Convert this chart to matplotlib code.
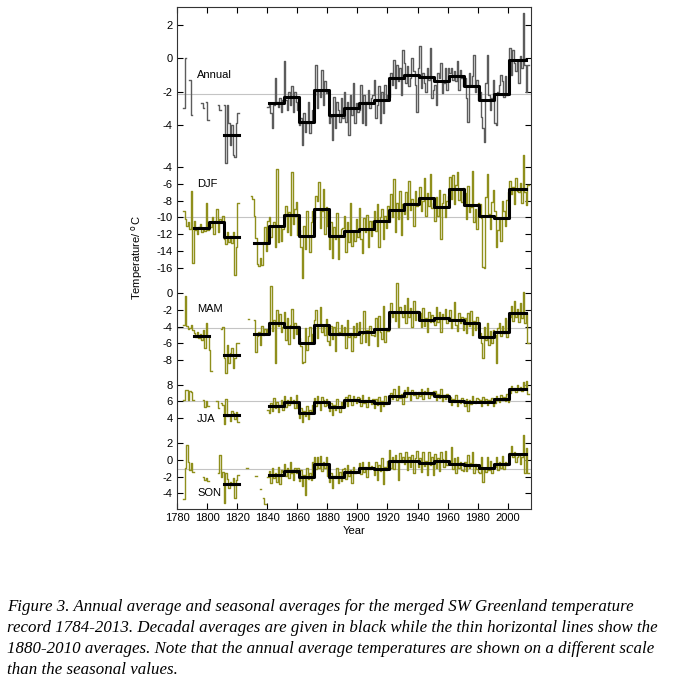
import numpy as np
import matplotlib
matplotlib.use('Agg')
import matplotlib.pyplot as plt

nan = np.nan
years = np.arange(1784, 2014)

# yearly values (deg C)
annual = [
    -3.0, 0.0, nan, nan, -1.3, -3.4, nan,                        # 1784-1790
    nan, nan, nan, nan, nan, -2.7, -3.0, nan, -2.6, -3.7,         # 1791-1800
    nan, nan, nan, nan, nan, nan, -2.8, -3.1, nan, nan,           # 1801-1810
    -2.8, -6.3, -2.8, -3.9, -5.2, -4.0, -5.8, -5.9, -3.9, -3.3,   # 1811-1820
    nan, nan, nan, nan, nan, nan, nan, nan, nan, nan,             # 1821-1830
    nan, nan, nan, nan, nan, nan, nan, nan, nan, -2.9,            # 1831-1840
    -2.7, -3.3, -4.2, -2.8, -1.2, -2.6, -2.9, -2.4, -3.2, -2.5,   # 1841-1850
    -0.2, -2.5, -3.1, -2.0, -2.8, -1.7, -3.2, -2.0, -2.6, -3.1,
    -4.0, -3.6, -5.2, -3.3, -4.4, -3.9, -2.6, -4.5, -3.8, -3.1,
    -2.2, -0.4, -3.0, -1.9, -2.3, -0.7, -2.8, -1.4, -2.1, -2.0,
    -3.9, -3.5, -4.9, -2.3, -4.2, -2.6, -3.1, -3.8, -2.4, -3.6,
    -2.0, -3.8, -2.6, -4.6, -2.2, -3.4, -1.5, -3.9, -2.7, -3.2,
    -3.1, -1.6, -3.9, -2.2, -4.0, -2.6, -1.9, -3.0, -2.4, -2.2,
    -1.3, -3.6, -2.8, -1.7, -3.9, -2.0, -3.3, -1.6, -2.4, -2.2,
    -2.3, -0.9, -1.6, -0.1, -1.8, -0.4, -1.4, -0.6, -2.2, 0.5,
    -0.3, -1.5, -0.5, -1.7, -1.2, 0.0, -0.8, -1.6, -3.2, -0.6,
    0.7, -1.8, -0.9, -1.5, -2.0, -0.6, -1.3, 0.6, -2.4, -1.9,
    -1.6, -2.8, -0.9, -1.2, -0.3, -2.1, -1.5, -0.6, -1.9, -0.6,
    -0.9, -0.6, -1.3, -0.8, -1.4, -0.2, -1.9, -0.7, -1.2, -1.7,
    -1.2, -2.4, -3.8, -0.9, -1.6, -1.1, 0.2, -2.0, -1.3, -2.5,
    -2.0, -3.5, -4.2, -5.0, -1.5, 0.2, -2.2, -3.1, -2.4, -1.3,
    -3.9, -4.0, -2.0, -1.6, -1.0, -1.4, -2.3, -1.1, -2.2, -2.1,
    0.6, -1.0, 0.5, -0.3, -0.8, -0.2, -1.5, 0.1, -0.6, 2.7,
    -0.4, -2.0, -0.4,                                            # 2011-2013
]

djf = [
    -9.2, -10.2, -11.0, -10.6, -11.4, -6.9, -15.5,
    -10.4, -11.5, -12.0, -11.2, -10.8, -11.8, -11.4, -11.6, -8.3, -11.5,
    -10.6, -11.2, -10.0, -12.0, -10.4, -9.0, -11.8, -10.2, -10.5, -9.8,
    -12.6, -13.2, -11.8, -12.9, -12.2, -13.1, -11.7, -16.9, -13.5, -8.3,
    nan, nan, nan, nan, nan, nan, nan, nan, -7.4, -7.8,
    -9.8, -12.5, -15.6, -15.8, -14.9, -15.7, -13.0, -11.2, -14.0, -10.4,
    -10.0, -12.4, -11.2, -10.6, -13.5, -4.2, -12.9, -11.0, -12.8, -11.4,
    -10.2, -8.6, -11.8, -9.4, -12.1, -4.6, -10.8, -9.0, -8.2, -12.1,
    -11.5, -13.6, -17.3, -11.0, -13.8, -9.2, -12.4, -14.1, -10.6, -9.3,
    -10.2, -7.4, -8.1, -5.8, -11.3, -9.2, -6.6, -12.0, -8.8, -11.0,
    -13.8, -10.6, -14.9, -11.2, -12.6, -9.5, -15.0, -12.1, -11.4, -11.3,
    -9.8, -14.2, -10.5, -12.9, -8.3, -13.4, -11.6, -12.8, -10.2, -12.3,
    -8.9, -12.6, -14.3, -10.1, -11.8, -9.7, -13.6, -10.4, -12.2, -10.4,
    -9.2, -11.6, -8.4, -13.5, -10.0, -9.0, -12.6, -9.8, -11.3, -8.6,
    -10.6, -7.2, -9.9, -5.4, -11.8, -8.3, -10.2, -6.9, -12.1, -8.4,
    -9.6, -7.0, -10.2, -5.6, -9.1, -7.8, -11.0, -6.9, -8.6, -7.8,
    -6.4, -9.2, -8.0, -5.3, -9.8, -7.1, -8.6, -4.8, -8.9, -8.3,
    -10.4, -7.6, -9.8, -6.7, -12.6, -8.3, -7.2, -9.9, -8.1, -7.4,
    -5.2, -7.8, -4.9, -8.4, -6.1, -4.6, -7.9, -6.8, -8.2, -6.5,
    -7.1, -10.2, -6.3, -9.4, -8.8, -4.5, -10.6, -9.0, -11.4, -8.3,
    -8.4, -10.1, -15.9, -16.1, -7.6, -4.8, -9.6, -11.4, -8.2, -6.7,
    -9.2, -13.6, -11.5, -10.1, -12.8, -8.0, -9.3, -11.0, -7.9, -7.0,
    -5.6, -7.2, -6.4, -8.4, -5.3, -6.8, -7.0, -5.9, -8.3, -2.6,
    -7.0, -8.5, -6.1,
]

mam = [
    -3.8, -0.4, -3.9, -4.3, -4.2, -3.8, -4.4,
    -4.8, -5.3, -4.6, -5.4, -4.9, -5.6, -4.4, -6.5, -3.6, -5.1,
    -6.8, -9.3, nan, nan, nan, nan, nan, nan, -4.3, -4.0,
    -7.8, -9.6, -6.2, -8.4, -7.1, -6.6, -8.9, -7.7, -6.0, -5.9,
    nan, nan, nan, nan, nan, nan, -3.1, nan, nan, nan,
    -3.2, -7.0, -5.1, -4.6, -6.2, -3.9, -5.0, -4.3, -4.8, -4.3,
    -3.4, 0.9, -4.5, -3.2, -8.4, -2.0, -3.9, -2.5, -4.6, -4.0,
    -2.2, -5.6, -3.0, -6.1, -3.8, -1.9, -5.4, -3.6, -4.9, -3.9,
    -5.4, -6.3, -8.4, -8.2, -4.2, -6.8, -5.1, -4.0, -5.9, -4.9,
    -3.2, -2.0, -5.4, -3.8, -1.6, -4.7, -3.9, -5.0, -3.1, -5.7,
    -6.2, -3.9, -5.5, -4.1, -6.9, -3.4, -5.0, -4.6, -3.8, -5.0,
    -4.0, -6.6, -3.2, -5.3, -4.8, -6.9, -3.9, -5.2, -3.6, -4.9,
    -3.5, -6.0, -4.9, -2.1, -5.8, -4.4, -6.2, -3.9, -5.0, -5.0,
    -5.1, -3.0, -6.3, -2.7, -4.6, -5.5, -1.5, -5.8, -4.2, -4.5,
    -3.5, -1.2, -2.9, -2.2, -3.3, 1.2, -4.1, -1.6, -2.4, -2.8,
    -1.4, -3.6, -0.6, -2.9, -1.8, -4.0, -0.9, -3.2, -2.1, -2.3,
    -2.4, -4.1, -1.8, -3.9, -3.0, -4.6, -2.2, -3.5, -2.6, -3.5,
    -3.8, -1.6, -3.4, -2.2, -4.7, -2.5, -3.1, -1.9, -3.6, -2.8,
    -2.0, -4.2, -3.1, -1.1, -3.8, -4.5, -2.4, -3.6, -2.9, -4.4,
    -3.0, -4.8, -2.4, -3.9, -2.1, -5.0, -3.3, -4.4, -2.9, -4.2,
    -4.8, -5.9, -7.8, -4.1, -5.6, -3.6, -6.2, -4.5, -5.9, -4.4,
    -5.0, -8.4, -4.2, -3.6, -5.1, -3.9, -4.8, -3.0, -5.2, -3.2,
    -2.9, -1.5, -3.3, -0.9, -2.8, -1.9, -3.5, -1.2, -3.0, 0.1,
    -3.6, -2.4, -6.0,
]

jja = [
    6.2, 7.3, 7.3, 6.2, 7.2, 7.1, 6.1,
    nan, nan, nan, nan, nan, nan, 6.1, 5.3, 6.0, 5.5,
    nan, nan, nan, nan, nan, 6.0, 5.2, nan, 5.8, 5.6,
    3.3, 6.3, 4.2, 4.4, 3.6, 4.8, 4.6, 3.9, 4.7, 3.5,
    nan, nan, nan, nan, nan, nan, nan, nan, nan, nan,
    nan, nan, nan, nan, nan, nan, nan, nan, nan, 5.0,
    4.6, 5.8, 4.9, 6.4, 5.2, 5.9, 4.7, 5.6, 6.1, 5.0,
    6.6, 5.3, 6.2, 5.6, 6.5, 5.8, 6.1, 5.2, 6.7, 5.2,
    4.0, 5.2, 3.5, 4.9, 4.2, 5.4, 3.9, 5.0, 4.6, 5.6,
    6.4, 5.4, 6.6, 5.8, 5.0, 6.5, 6.1, 5.5, 6.3, 5.6,
    4.9, 5.8, 4.4, 5.6, 5.0, 6.3, 5.2, 4.7, 5.9, 5.5,
    5.7, 6.5, 5.4, 6.8, 6.0, 5.6, 6.6, 6.3, 5.8, 6.5,
    6.4, 5.5, 6.7, 5.8, 6.2, 5.3, 6.5, 6.0, 5.7, 6.3,
    5.2, 6.3, 5.6, 6.5, 4.9, 6.0, 5.4, 6.6, 5.7, 5.8,
    6.0, 7.0, 6.3, 7.5, 6.6, 6.1, 7.8, 6.4, 6.9, 5.7,
    7.3, 6.5, 7.7, 6.9, 6.2, 7.4, 6.8, 7.1, 6.4, 7.1,
    6.6, 7.5, 6.3, 7.2, 6.9, 7.6, 6.4, 7.0, 6.7, 7.2,
    7.2, 6.1, 6.9, 6.4, 7.5, 6.0, 6.7, 6.3, 6.9, 6.3,
    6.5, 5.6, 6.3, 5.9, 6.7, 5.4, 6.2, 5.8, 6.4, 6.0,
    5.5, 6.3, 4.9, 6.1, 5.7, 6.6, 6.0, 5.8, 6.4, 6.3,
    6.2, 5.4, 6.5, 5.8, 6.3, 5.6, 6.1, 5.9, 6.4, 5.4,
    5.8, 6.6, 6.1, 5.9, 6.8, 6.2, 6.5, 6.0, 6.9, 5.9,
    7.0, 7.8, 7.3, 7.6, 7.1, 7.9, 7.4, 7.7, 7.2, 8.3,
    7.5, 8.4, 6.9,
]

son = [
    -4.7, -1.0, 1.8, -0.3, -1.2, -0.4, -1.4,
    nan, nan, nan, nan, nan, nan, -2.0, -2.4, -2.1, -2.5,
    nan, nan, nan, nan, nan, nan, -1.6, 0.6, -2.0, -1.4,
    -5.1, -1.5, -2.3, -3.4, -2.6, -3.0, -2.2, -4.5, -2.4, -1.8,
    nan, nan, nan, nan, nan, -0.9, nan, nan, nan, nan,
    nan, -1.9, nan, nan, -3.5, nan, -4.6, -5.3, nan, -2.0,
    -1.3, -2.8, -0.9, -2.2, -1.5, -2.6, -0.8, -2.9, -1.2, -1.4,
    -0.5, -1.9, -1.0, -2.1, -0.3, -1.6, -2.4, -0.9, -1.5, -1.0,
    -2.5, -1.2, -3.1, -1.8, -4.2, -1.0, -2.3, -1.6, -2.4, -0.3,
    0.4, -1.1, 0.3, -0.9, 0.5, -1.3, -0.2, -1.0, 0.4, -1.9,
    -2.6, -1.5, -3.4, -1.9, -2.2, -1.0, -2.8, -1.4, -2.5, -1.1,
    -1.0, -2.3, -0.6, -1.9, -1.2, -2.7, -0.8, -1.6, -1.3, -1.4,
    -0.4, -1.7, -0.2, -1.4, -0.8, -2.0, -0.3, -1.1, -0.7, -1.0,
    -1.8, -0.3, -2.4, -0.6, -1.3, 0.2, -2.9, -0.8, -1.2, -0.1,
    1.2, -0.9, 0.4, -1.1, 0.6, -0.2, -2.4, 0.8, -0.3, 0.3,
    -0.5, 1.0, -1.2, 0.3, -0.8, 0.6, -1.5, 0.2, 1.1, -0.8,
    0.2, -1.4, 0.9, -0.7, -0.1, -1.8, 1.0, -0.6, 0.3, -1.8,
    0.7, -0.9, 0.2, -1.3, 0.9, 0.1, -0.8, 1.1, -0.6, -0.2,
    -0.3, 1.6, -1.1, 0.2, -1.6, 0.4, -0.9, -0.2, -1.2, -1.3,
    -0.2, -1.3, 0.6, -1.0, -0.4, 0.9, -1.6, -0.5, -1.1, -1.4,
    -1.5, 0.3, -2.6, -0.9, -1.4, 0.4, -1.2, -0.1, -1.6, -1.0,
    -0.8, 0.4, -1.2, -0.3, -0.9, 0.5, -1.1, -0.2, -0.6, -0.2,
    0.8, 1.7, 0.3, 0.9, -0.3, 0.4, 0.6, -0.5, 0.4, 3.0,
    -1.5, 1.4, -1.6,
]

# decadal averages (black), one value per decade starting at dec_edges[i]
dec_edges = [1791, 1801, 1811, 1821, 1831, 1841, 1851, 1861, 1871, 1881, 1891, 1901,
             1911, 1921, 1931, 1941, 1951, 1961, 1971, 1981, 1991, 2001, 2012]
annual_dec = [nan, nan, -4.57, nan, nan, -2.69, -2.32, -3.84, -1.90, -3.43, -2.99, -2.69,
              -2.48, -1.20, -1.01, -1.11, -1.35, -1.07, -1.66, -2.50, -2.16, -0.14]
djf_dec = [-11.3, -10.55, -12.35, nan, -13.08, -11.0, -9.68, -12.28, -9.04, -12.24, -11.6, -11.4,
           -10.4, -9.08, -8.36, -7.64, -8.8, -6.64, -8.56, -9.88, -10.04, -6.64]
mam_dec = [-5.12, nan, -7.4, nan, -4.84, -3.56, -4.04, -5.92, -3.84, -4.84, -4.84, -4.68,
           -4.32, -2.28, -2.28, -3.16, -2.96, -3.2, -3.6, -5.28, -4.64, -2.32]
jja_dec = [nan, nan, 4.31, nan, nan, 5.41, 5.92, 4.63, 5.92, 5.33, 6.12, 6.04,
           5.8, 6.63, 6.94, 6.94, 6.63, 6.08, 5.96, 5.96, 6.27, 7.45]
son_dec = [nan, nan, -2.88, nan, nan, -1.76, -1.32, -2.04, -0.48, -2.04, -1.48, -0.96,
           -1.12, -0.16, -0.16, -0.4, -0.08, -0.44, -0.6, -0.96, -0.44, 0.76]

# 1880-2010 averages (thin grey lines)
ref_means = {'Annual': -2.15, 'DJF': -9.9, 'MAM': -4.15, 'JJA': 6.0, 'SON': -1.05}

# panel name, yearly, decadal, y ticks, colour
panels = [
    ('Annual', annual, annual_dec, [2, 0, -2, -4], '#5c5c5c'),
    ('DJF', djf, djf_dec, [-4, -6, -8, -10, -12, -14, -16], '#8f8f1c'),
    ('MAM', mam, mam_dec, [0, -2, -4, -6, -8], '#8f8f1c'),
    ('JJA', jja, jja_dec, [8, 6, 4], '#8f8f1c'),
    ('SON', son, son_dec, [2, 0, -2, -4], '#8f8f1c'),
]
# all panels share one axis: y = offset + scale*T
offsets = {'Annual': (53.9, 2.0), 'DJF': (44.86, 1.0), 'MAM': (25.8, 1.0),
           'JJA': (6.87, 1.0), 'SON': (5.86, 1.0)}
label_pos = {'Annual': 51.9, 'DJF': 38.9, 'MAM': 23.9, 'JJA': 10.8, 'SON': 1.9}

tick_font = 'Liberation Sans'
fs = 8
fig = plt.figure(figsize=(6.73, 6.86), dpi=100)
ax = fig.add_axes([177/673, 1 - 509/686, 354/673, 502/686])

ypos, ylab = [], []
x_year = np.append(years, years[-1] + 1)
for name, vals, dec, ticks, col in panels:
    off, k = offsets[name]
    v = np.asarray(vals, dtype=float)
    y = off + k*np.append(v, v[-1])
    ax.axhline(off + k*ref_means[name], color='#c4c4c4', lw=0.8, zorder=1)
    ax.plot(x_year, y, drawstyle='steps-post', color=col, lw=1.0, zorder=2)
    d = np.asarray(dec, dtype=float)
    ax.plot(dec_edges, off + k*np.append(d, d[-1]), drawstyle='steps-post',
            color='black', lw=2.2, zorder=3)
    ax.text(1793.3, label_pos[name], name, fontsize=fs, family=tick_font,
            va='center', ha='left')
    for t in ticks:
        ypos.append(off + k*t)
        ylab.append(str(t))

ax.set_xlim(1780, 2015.5)
ax.set_ylim(0, 60)
ax.set_xticks(np.arange(1780, 2001, 20))
ax.set_yticks(ypos, ylab)
ax.tick_params(direction='in', top=True, right=True, length=4, width=0.8,
               labelsize=fs, pad=3)
for lab in ax.get_xticklabels() + ax.get_yticklabels():
    lab.set_family(tick_font)
for s in ax.spines.values():
    s.set_linewidth(0.8)
    s.set_color('#333333')

ax.set_xlabel('Year', fontsize=fs, family=tick_font, labelpad=2)
ax.set_ylabel('Temperature/ $^{\\rm o}$C', fontsize=fs, family=tick_font)
ax.yaxis.set_label_coords(-0.09, 0.5)

caption = ('Figure 3. Annual average and seasonal averages for the merged SW Greenland temperature\n'
           'record 1784-2013. Decadal averages are given in black while the thin horizontal lines show the\n'
           '1880-2010 averages. Note that the annual average temperatures are shown on a different scale\n'
           'than the seasonal values.')
fig.text(7/673, 1 - 599/686, caption, fontsize=12.2, family='Liberation Serif', style='italic',
         va='top', ha='left', linespacing=1.43)

fig.savefig('out.png', dpi=100)
